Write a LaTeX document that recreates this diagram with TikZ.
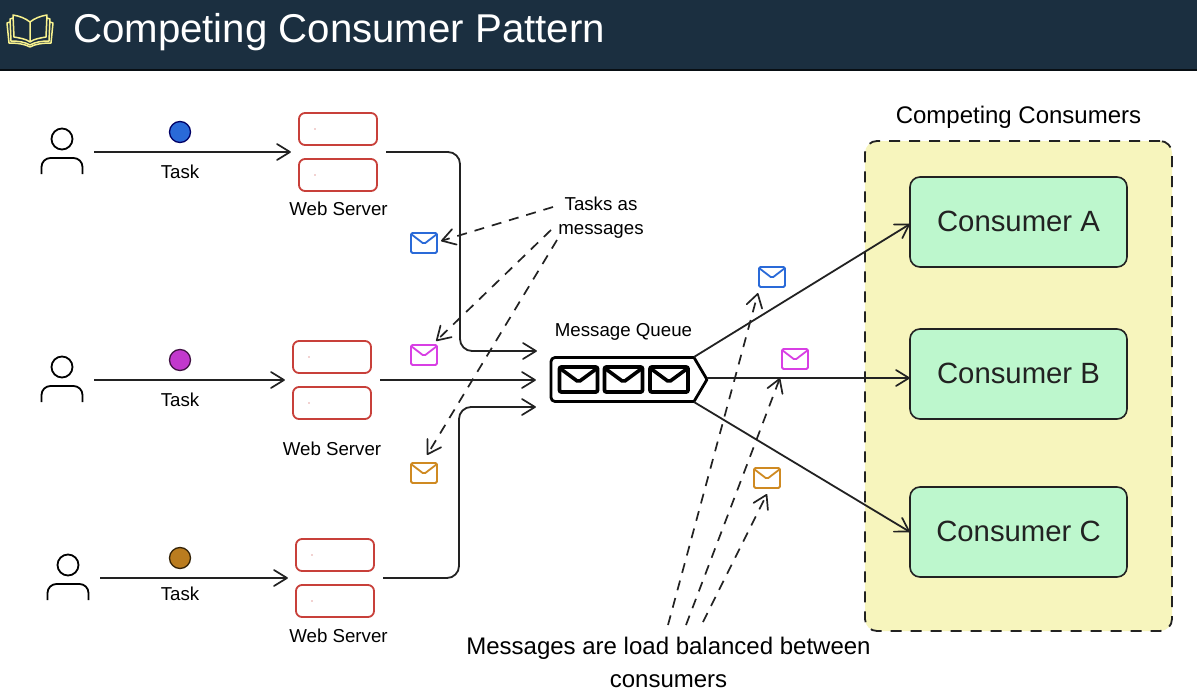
\documentclass[tikz,border=0pt]{standalone}
\usepackage{fontspec}
\setmainfont{Liberation Sans}
\usetikzlibrary{arrows.meta}
\definecolor{hdr}{HTML}{1B2F40}
\definecolor{bookc}{HTML}{F8F28E}
\definecolor{ink}{HTML}{222222}
\definecolor{srv}{HTML}{C8403A}
\definecolor{mblue}{HTML}{2A6AD8}
\definecolor{mpurple}{HTML}{D83FE4}
\definecolor{morange}{HTML}{CF8A22}
\definecolor{grn}{HTML}{BDF7CD}
\definecolor{yel}{HTML}{F7F5BD}
\pgfdeclarearrow{
  name=VBarb,
  setup code={\pgfarrowssettipend{1pt}\pgfarrowssetlineend{0pt}\pgfarrowssetbackend{-13pt}\pgfarrowssetvisualbackend{-1pt}},
  drawing code={\pgfsetdash{}{0pt}\pgfsetroundcap\pgfsetroundjoin\pgfsetlinewidth{1.7pt}%
    \pgfpathmoveto{\pgfpoint{-13pt}{8pt}}\pgfpathlineto{\pgfpointorigin}\pgfpathlineto{\pgfpoint{-13pt}{-8pt}}\pgfusepathqstroke}
}
\tikzset{
  x=1pt,y=-1pt,
  flow/.style={draw=ink,line width=1.8pt,-{VBarb}},
  elbow/.style={flow,rounded corners=12pt},
  dflow/.style={draw=ink,line width=1.7pt,dash pattern=on 10pt off 8pt,-{VBarb}},
  ghost/.style={inner sep=0pt,outer sep=0pt},
  srvbox/.style={draw=srv,line width=1.8pt,rounded corners=6pt,minimum width=78pt,minimum height=32pt,inner sep=0pt,fill=white},
  cons/.style={draw=ink,line width=1.6pt,rounded corners=10pt,fill=grn,minimum width=217pt,minimum height=90pt,font=\fontsize{29.3}{32}\selectfont,text=ink},
  taskdot/.style={circle,minimum size=21pt,inner sep=0pt,line width=1.3pt},
  lbl/.style={font=\fontsize{18.7}{20}\selectfont,text=black,inner sep=0pt},
  env/.style={draw=#1,line width=1.8pt,rounded corners=1.5pt,minimum width=26pt,minimum height=20pt,inner sep=0pt,
    path picture={\draw[#1,line width=1.8pt,line join=round] ([yshift=-1pt]path picture bounding box.north west) -- ([yshift=-11pt]path picture bounding box.north) -- ([yshift=-1pt]path picture bounding box.north east);}},
  menv/.style={draw=black,line width=3.8pt,rounded corners=2pt,minimum width=38pt,minimum height=25pt,inner sep=0pt,
    path picture={\draw[black,line width=3.6pt,line join=miter] ([yshift=-1pt]path picture bounding box.north west) -- ([yshift=-15pt]path picture bounding box.north) -- ([yshift=-1pt]path picture bounding box.north east);}},
  userfig/.pic={
    \draw[black,line width=1.8pt] (0,-13) circle (10.5pt);
    \draw[black,line width=1.8pt,rounded corners=9pt] (-20.5,22) -- (-20.5,6) -- (20.5,6) -- (20.5,22);
  },
}
\begin{document}
\begin{tikzpicture}
\useasboundingbox (0,0) rectangle (1197,693);
\fill[white] (0,0) rectangle (1197,693);
% header
\fill[black!70!hdr,rounded corners=3pt] (-5,-5) rectangle (1202,71);
\fill[hdr] (-5,-5) rectangle (1202,69);
\begin{scope}[bookc,line width=1.5pt,line join=round]
  \draw (30,22) .. controls (25,18) and (19,16) .. (13,15) -- (14,37) .. controls (20,38) and (26,39) .. (30,42) .. controls (34,39) and (40,38) .. (46,37) -- (47,15) .. controls (41,16) and (35,18) .. (30,22) -- (30,42);
  \draw (13,18) -- (10,19) -- (11,41) .. controls (18,41) and (25,42) .. (30,45) .. controls (35,42) and (42,41) .. (49,41) -- (50,19) -- (47,18);
  \draw (10,22) -- (7,23) -- (9,43) .. controls (17,43) and (25,44) .. (30,47) .. controls (35,44) and (43,43) .. (51,43) -- (53,23) -- (50,22);
\end{scope}
\node[anchor=base west,inner sep=0pt,text=white,font=\fontsize{40.2}{42}\selectfont] (title) at (73,42.5) {Competing Consumer Pattern};

% consumers panel
\node[draw=ink,fill=yel,line width=1.8pt,dash pattern=on 11pt off 9pt,rounded corners=12pt,minimum width=307pt,minimum height=490pt,inner sep=0pt] (panel) at (1018.5,386) {};
\node[inner sep=0pt,font=\fontsize{24}{26}\selectfont] (paneltitle) at (1018.5,117) {Competing Consumers};
\node[cons] (ca) at (1018.5,222) {\raisebox{2pt}{Consumer A}};
\node[cons] (cb) at (1018.5,374) {\raisebox{2pt}{Consumer B}};
\node[cons] (cc) at (1018.5,532) {\raisebox{2pt}{Consumer C}};

% users
\node[ghost,minimum width=64pt,minimum height=40pt] (u1) at (62,152) {};
\node[ghost,minimum width=64pt,minimum height=40pt] (u2) at (62,380) {};
\node[ghost,minimum width=64pt,minimum height=40pt] (u3) at (68,578) {};
\pic at (u1) {userfig};
\pic at (u2) {userfig};
\pic at (u3) {userfig};

% task dots
\node[taskdot,fill=mblue,draw=blue!40!black] (d1) at (180,132) {};
\node[taskdot,fill=mpurple!90!black,draw=black!70!mpurple] (d2) at (180,360) {};
\node[taskdot,fill=morange!90!black,draw=black!75!morange] (d3) at (180,558) {};
\node[lbl] (t1) at (180,172) {Task};
\node[lbl] (t2) at (180,400) {Task};
\node[lbl] (t3) at (180,594) {Task};

% servers
\node[ghost,minimum width=95pt,minimum height=78pt] (s1) at (338.5,152) {};
\node[ghost,minimum width=95pt,minimum height=78pt] (s2) at (332.5,380) {};
\node[ghost,minimum width=95pt,minimum height=78pt] (s3) at (335.5,578) {};
\node[srvbox] (s1a) at (338,129) {};
\node[srvbox] (s1b) at (338,175) {};
\node[srvbox] (s2a) at (332,357) {};
\node[srvbox] (s2b) at (332,403) {};
\node[srvbox] (s3a) at (335,555) {};
\node[srvbox] (s3b) at (335,601) {};
\foreach \n/\xx/\yy in {1/315/129,1/315/175,2/309/357,2/309/403,3/312/555,3/312/601}
  \fill[srv] (\xx,\yy) circle (0.7pt);
\node[lbl] (w1) at (338.5,209) {Web Server};
\node[lbl] (w2) at (332,449) {Web Server};
\node[lbl] (w3) at (338.5,636) {Web Server};

% queue
\node[ghost,minimum width=156pt,minimum height=44pt] (q) at (629,379.5) {};
\draw[black,line width=2.8pt,line join=round] (694,357.5) -- (q.east) -- (694,401.5) [rounded corners=4pt] -- (q.west |- q.south) -- (q.west |- q.north) [sharp corners] -- cycle;
\node[menv] (m1) at (578.5,379.5) {};
\node[menv] (m2) at (623.5,379.5) {};
\node[menv] (m3) at (669,379.5) {};
\node[lbl] (qlabel) at (623.5,331.5) {Message Queue};

% connector ends
\coordinate (in1) at (537,351);
\coordinate (in2) at (536,380);
\coordinate (in3) at (536,407);
\coordinate (q1) at (694,357);
\coordinate (q2) at (707,378);
\coordinate (q3) at (694,402);
\coordinate (ta) at (910,224);
\coordinate (tb) at (910,378);
\coordinate (tc) at (910,532);

% flows
\draw[flow] (u1.east) -- (s1.west);
\draw[flow] (u2.east) -- (s2.west);
\draw[flow] (u3.east) -- (s3.west);
\draw[elbow] (s1.east) -- (460,152) -- (460,351) -- (in1);
\draw[flow] (s2.east) -- (in2);
\draw[elbow] (s3.east) -- (459,578) -- (459,407) -- (in3);
\draw[flow] (q1) -- (ta);
\draw[flow] (q2) -- (tb);
\draw[flow] (q3) -- (tc);

% envelopes
\node[env=mblue] (e1) at (424,243) {};
\node[env=mpurple] (e2) at (424,355) {};
\node[env=morange] (e3) at (424,473) {};
\node[env=mblue] (e4) at (772,277) {};
\node[env=mpurple] (e5) at (795,359) {};
\node[env=morange] (e6) at (767,478) {};

% labels
\node[lbl] (tm1) at (601,204) {Tasks as};
\node[lbl] (tm2) at (601,231) {messages};
\node[inner sep=0pt,font=\fontsize{24}{26}\selectfont] (lb1) at (668.5,648) {Messages are load balanced between};
\node[inner sep=0pt,font=\fontsize{24}{26}\selectfont] (lb2) at (668.5,681) {consumers};

% dashed connectors
\coordinate (a1) at (553,207);
\coordinate (a2) at (551,230);
\coordinate (a3) at (557,240);
\coordinate (b1) at (668,625);
\coordinate (b2) at (686,625);
\coordinate (b3) at (703,622);
\draw[dflow] (a1) -- ([xshift=3pt,yshift=2pt]e1.east);
\draw[dflow] (a2) -- ([xshift=12pt,yshift=3pt]e2.north);
\draw[dflow] (a3) -- ([xshift=3pt,yshift=7pt]e3.north);
\draw[dflow] (b1) -- ([xshift=-14pt,yshift=-5pt]e4.south);
\draw[dflow] (b2) -- ([xshift=-15pt,yshift=-8pt]e5.south);
\draw[dflow] (b3) -- ([yshift=-5pt]e6.south);
\end{tikzpicture}
\end{document}
